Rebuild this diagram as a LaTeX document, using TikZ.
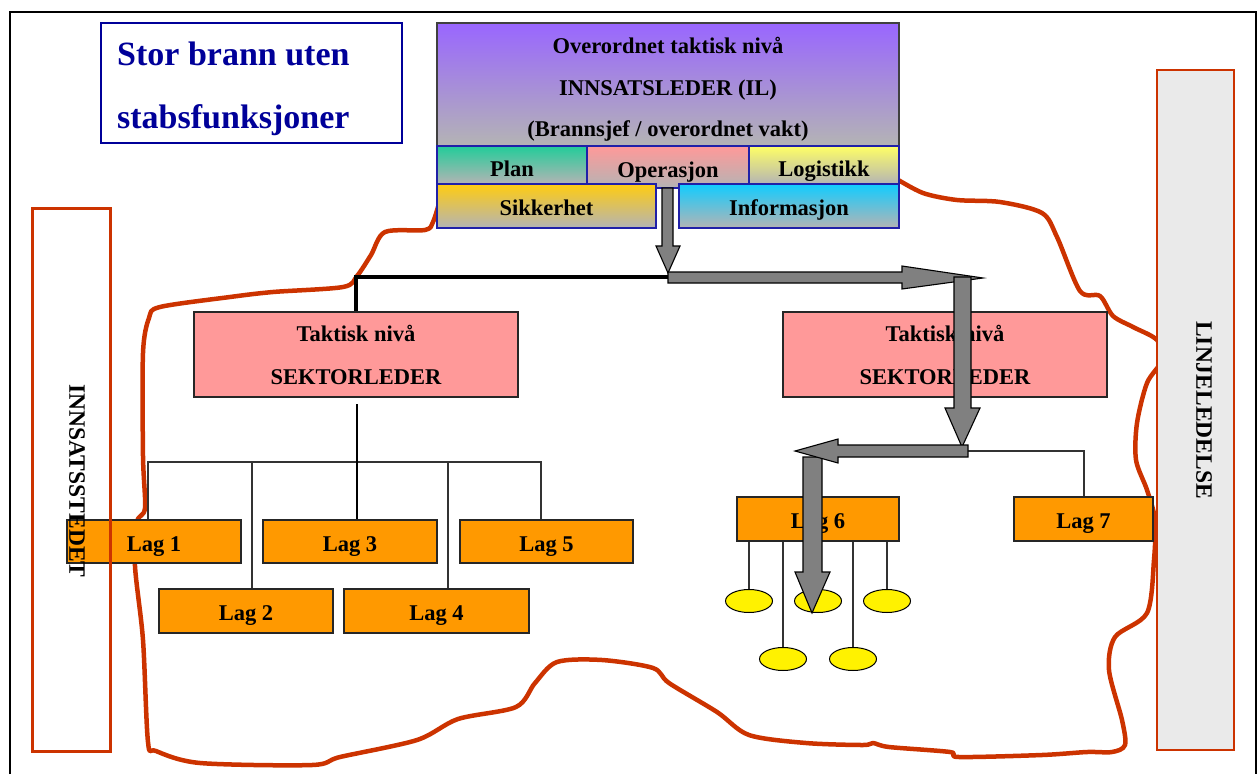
\documentclass[tikz,border=0pt]{standalone}
\usepackage{fontspec}
\setmainfont{Liberation Serif}
\usetikzlibrary{shapes.geometric}
\definecolor{fireline}{HTML}{CC3300}
\definecolor{lagorange}{HTML}{FF9900}
\definecolor{sekpink}{HTML}{FF9999}
\definecolor{shadegray}{HTML}{B4B4B4}
\definecolor{staffblue}{HTML}{2020A8}
\definecolor{titleblue}{HTML}{000099}
\definecolor{arrowgray}{HTML}{808080}
\definecolor{panelgray}{HTML}{EAEAEA}
\definecolor{ilpurple}{HTML}{9966FF}
\definecolor{plangreen}{HTML}{22CC99}
\definecolor{opspink}{HTML}{FF9999}
\definecolor{logyellow}{HTML}{FFFF66}
\definecolor{safegold}{HTML}{FFCC11}
\definecolor{infocyan}{HTML}{11CCFF}
\tikzset{
  lbl/.style={font=\bfseries\fontsize{22.5}{27}\selectfont, text=black, text height=19pt, text depth=0pt},
  lagbox/.style={draw=black!85, fill=lagorange, line width=1.2, inner sep=0, lbl},
  sekbox/.style={draw=black!85, fill=sekpink, line width=1.2, inner sep=0, align=center,
    font=\bfseries\fontsize{22.5}{43}\selectfont},
  staffbox/.style={draw=staffblue, line width=1.2, inner sep=0, lbl, bottom color=shadegray},
  leaf/.style={ellipse, draw=black, fill=yellow, line width=1, minimum width=47, minimum height=23, inner sep=0},
  twig/.style={draw=black!80, line width=1.2},
  blockarrow/.style={draw=black, fill=arrowgray, line width=1.1, line join=miter},
  sidetext/.style={rotate=-90, font=\bfseries\fontsize{23.5}{28}\selectfont, inner sep=0},
}
\begin{document}
\begin{tikzpicture}[x=1pt,y=-1pt]
\useasboundingbox (0,0) rectangle (1258,774);
% outer frame
\draw[black, line width=2] (10,774) -- (10,12) -- (1256,12) -- (1256,774);

% fire perimeter
\draw[fireline, line width=4.5, line join=round, line cap=round]
  plot[smooth, tension=0.5] coordinates {
  (440,200) (433,222) (425,230) (385,232) (371,255) (357,276) (343,287) (273,292)
  (230,297) (160,307) (149,318) (143,353) (143,456) (145,508) (137,522) (135,566)
  (143,640) (148,742) (156,751) (200,763) (312,765) (340,757) (417,740) (458,719)
  (516,707) (535,683) (557,662) (602,660) (653,668) (669,683) (717,712) (749,735)
  (806,743) (863,745) (873,743) (889,747) (950,752) (959,757) (1042,755) (1087,752)
  (1112,752) (1125,745) (1122,720) (1109,670) (1115,637) (1147,613) (1154,560)
  (1155,520) (1147,490) (1136,460) (1137,423) (1147,383) (1162,360) (1157,340)
  (1133,327) (1113,316) (1100,296) (1080,291) (1057,237) (1042,213) (1000,202)
  (957,200) (923,193) (895,178)};

% title
\node[draw=titleblue, line width=1.2, minimum width=301, minimum height=120, inner sep=0] (title) at (251.5,83) {};
\node[anchor=base west, inner sep=0, text=titleblue, font=\bfseries\fontsize{34}{40}\selectfont] (title1) at (117,65) {Stor brann uten};
\node[anchor=base west, inner sep=0, text=titleblue, font=\bfseries\fontsize{34}{40}\selectfont] (title2) at (117,128) {stabsfunksjoner};

% incident commander and staff functions
\node[draw=black!75, line width=1.2, top color=ilpurple, bottom color=shadegray, minimum width=462, minimum height=123,
  inner sep=0] (il) at (668,84.5) {};
\node[inner sep=0, align=center, font=\bfseries\fontsize{22.5}{41.5}\selectfont] (iltext) at (668,89.5)
  {Overordnet taktisk nivå\\INNSATSLEDER (IL)\\(Brannsjef / overordnet vakt)};
\node[staffbox, top color=plangreen, bottom color=shadegray, minimum width=150, minimum height=38, text height=23pt] (plan) at (512,165) {Plan};
\node[staffbox, top color=opspink, bottom color=shadegray, minimum width=162, minimum height=42, text height=21pt] (ops) at (668,167) {Operasjon};
\node[staffbox, top color=logyellow, bottom color=shadegray, minimum width=150, minimum height=38, text height=23pt] (log) at (824,165) {Logistikk};
\node[staffbox, top color=safegold, bottom color=shadegray, minimum width=219, minimum height=44] (safe) at (546.5,206) {Sikkerhet};
\node[staffbox, top color=infocyan, bottom color=shadegray, minimum width=220, minimum height=44] (info) at (789,206) {Informasjon};

% sector leaders
\node[sekbox, minimum width=324, minimum height=85] (sekL) at (356,354.5) {Taktisk nivå\\SEKTORLEDER};
\node[sekbox, minimum width=324, minimum height=85] (sekR) at (945,354.5) {Taktisk nivå\\SEKTORLEDER};

% crews
\node[lagbox, minimum width=174, minimum height=43] (lag1) at (154,541.5) {Lag 1};
\node[lagbox, minimum width=174, minimum height=43] (lag3) at (350,541.5) {Lag 3};
\node[lagbox, minimum width=173, minimum height=43] (lag5) at (546.5,541.5) {Lag 5};
\node[lagbox, minimum width=174, minimum height=44] (lag2) at (246,611) {Lag 2};
\node[lagbox, minimum width=185, minimum height=44] (lag4) at (436.5,611) {Lag 4};
\node[lagbox, minimum width=162, minimum height=44] (lag6) at (818,519) {Lag 6};
\node[lagbox, minimum width=139, minimum height=44] (lag7) at (1083.5,519) {Lag 7};

% crew members
\node[leaf] (e1) at (749,601) {};
\node[leaf] (e2) at (818,601) {};
\node[leaf] (e3) at (887,601) {};
\node[leaf] (e4) at (783,659) {};
\node[leaf] (e5) at (853,659) {};

% left sector tree
\coordinate (sekLdrop) at (357,404);
\coordinate (t1) at (148,462);
\coordinate (t2) at (252,462);
\coordinate (t4) at (448,462);
\coordinate (t5) at (541,462);
\draw[twig] (lag1.north -| t1) -- (t1) -- (t5) -- (lag5.north -| t5);
\draw[twig] (t2) -- (lag2.north -| t2);
\draw[twig] (t4) -- (lag4.north -| t4);
\draw[black, line width=1.5] (sekLdrop) -- (lag3.north -| sekLdrop);

% right sector tree
\coordinate (r6) at (818,451);
\coordinate (r7) at (1084,451);
\draw[twig] (lag6.north) -- (r6) -- (r7) -- (lag7.north -| r7);
\foreach \e in {e1,e2,e3,e4,e5}
  \draw[twig] (\e.north) -- (\e.north |- lag6.south);

% command line to the left sector
\coordinate (split) at (668,277);
\draw[black, line width=4] (split) -- (split -| sekL.north) -- (sekL.north);

% block arrows of the command flow
\draw[blockarrow] (662,188) -- (673,188) -- (673,246) -- (680,246) -- (668,273) -- (656,246) -- (662,246) -- cycle;
\draw[blockarrow] (668,272) -- (902,272) -- (902,266) -- (983,278) -- (902,289) -- (902,283) -- (668,283) -- cycle;
\draw[blockarrow] (954,277) -- (971,277) -- (971,408) -- (980,408) -- (962,447) -- (945,408) -- (954,408) -- cycle;
\draw[blockarrow] (803,457) -- (822,457) -- (822,572) -- (830,572) -- (812,613) -- (795,572) -- (803,572) -- cycle;
\draw[blockarrow] (968,445) -- (838,445) -- (838,439) -- (795,451) -- (838,463) -- (838,457) -- (968,457) -- cycle;

% side panels
\node[draw=fireline, line width=3, minimum width=78, minimum height=543, inner sep=0] (site) at (71,479.5) {};
\node[sidetext] (sitetext) at (77,481) {INNSATSSTEDET};
\node[draw=fireline, fill=panelgray, line width=1.3, minimum width=77, minimum height=680, inner sep=0] (line) at (1195.5,410) {};
\node[sidetext] (linetext) at (1204,410) {LINJELEDELSE};
\end{tikzpicture}
\end{document}
